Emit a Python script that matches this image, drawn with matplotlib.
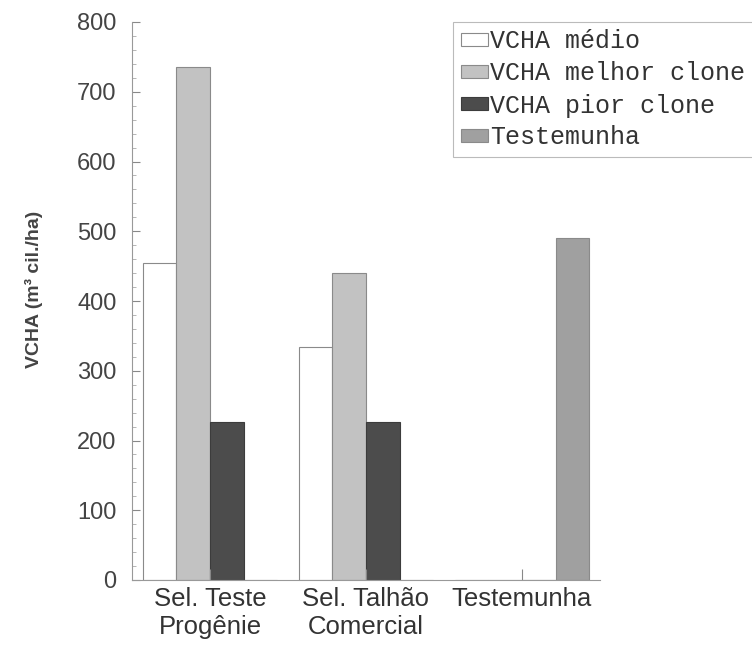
import numpy as np
import matplotlib
matplotlib.use("Agg")
import matplotlib.pyplot as plt
from matplotlib.ticker import MultipleLocator

plt.rcParams['font.family'] = ['Liberation Sans', 'DejaVu Sans']

# data
groups = ["Sel. Teste\nProgênie", "Sel. Talhão\nComercial", "Testemunha"]
series = ["VCHA médio", "VCHA melhor clone", "VCHA pior clone", "Testemunha"]
medio = [454, 334, 0]
melhor = [735, 440, 0]
pior = [226, 226, 0]
testemunha = [0, 0, 490]

colors = ["#ffffff", "#c2c2c2", "#4c4c4c", "#a0a0a0"]
edges = ["#8a8a8a", "#8a8a8a", "#3c3c3c", "#8a8a8a"]

fig = plt.figure(figsize=(7.52, 6.53), dpi=100)
ax = fig.add_axes([132/752, 1-580/653, (600-132)/752, (580-22)/653])

x = np.arange(len(groups))
w = 0.215
vals = [medio, melhor, pior, testemunha]
for i, v in enumerate(vals):
    ax.bar(x + (i - 1.5) * w, v, w, color=colors[i], edgecolor=edges[i],
           linewidth=0.8, label=series[i])

ax.set_xlim(-0.5, 2.5)
ax.set_ylim(0, 800)
ax.set_xticks(x)
ax.set_xticklabels(groups, fontsize=18.5, color="#333333", linespacing=1.2)
ax.yaxis.set_major_locator(MultipleLocator(100))
ax.yaxis.set_minor_locator(MultipleLocator(20))
ax.tick_params(axis='y', which='major', direction='in', length=6, color="#888888",
               labelsize=17, labelcolor="#444444", pad=11)
ax.tick_params(axis='y', which='minor', direction='in', length=3, color="#aaaaaa")
ax.tick_params(axis='x', direction='in', length=8, color="#888888", pad=5)
ax.set_ylabel("VCHA (m³ cil./ha)", fontsize=14, fontweight='bold', color="#444444")
ax.yaxis.set_label_coords(-0.19, 0.52)

for s in ['top', 'right']:
    ax.spines[s].set_visible(False)
for s in ['left', 'bottom']:
    ax.spines[s].set_color("#999999")

leg = ax.legend(loc='upper left', bbox_to_anchor=(453/752, 1-22/653),
                bbox_transform=fig.transFigure, prop={'family': 'Liberation Mono', 'size': 18},
                handlelength=1.1, handleheight=0.45, handletextpad=0.1, labelspacing=0.32,
                borderpad=0.3, fancybox=False, frameon=True, borderaxespad=0)
leg.get_frame().set_edgecolor("#aaaaaa")
leg.get_frame().set_linewidth(0.8)
for t in leg.get_texts():
    t.set_color("#333333")

fig.savefig("out.png", dpi=100)
